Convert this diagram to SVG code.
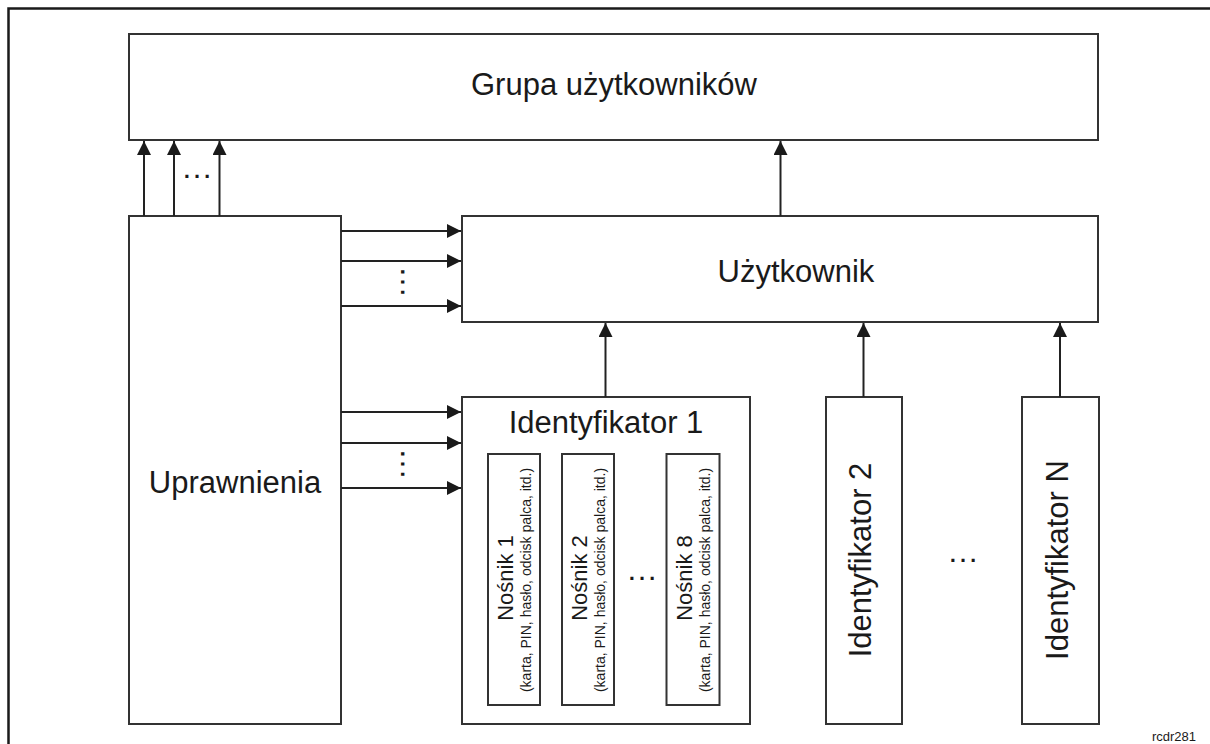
<svg xmlns="http://www.w3.org/2000/svg" width="1210" height="744" viewBox="0 0 1210 744">
<style>
.box{fill:#fff;stroke:#333;stroke-width:2}
.ln{stroke:#222;stroke-width:2;fill:none}
.t{font-family:"Liberation Sans",Arial,sans-serif;fill:#1a1a1a}
.big{font-size:31px}
.mid{font-size:22px}
.sm{font-size:14px}
.dots{font-family:"Liberation Sans",Arial,sans-serif;font-size:32px;fill:#1a1a1a}
</style>
<defs>
<marker id="ah" viewBox="0 0 14 14" refX="14" refY="7" markerWidth="14" markerHeight="14" markerUnits="userSpaceOnUse" orient="auto">
<path d="M0,0 L14,7 L0,14 Z" fill="#1a1a1a"/>
</marker>
</defs>
<rect width="1210" height="744" fill="#fff"/>
<path d="M8.5,744 V8.5 H1210" fill="none" stroke="#1a1a1a" stroke-width="2.5"/>

<g id="grupa">
<rect class="box" x="129" y="34" width="969" height="106"/>
<text class="t big" x="614" y="95" text-anchor="middle">Grupa użytkowników</text>
</g>
<g id="uzytkownik">
<rect class="box" x="462" y="216" width="636" height="106"/>
<text class="t big" x="796" y="282" text-anchor="middle">Użytkownik</text>
</g>
<g id="uprawnienia">
<rect class="box" x="129" y="216" width="212" height="508"/>
<text class="t big" x="235" y="493" text-anchor="middle">Uprawnienia</text>
</g>
<g id="identyfikator1">
<rect class="box" x="462" y="397" width="288" height="327"/>
<text class="t big" x="606" y="433" text-anchor="middle">Identyfikator 1</text>
</g>
<g id="nosnik1">
<rect class="box" x="488" y="454" width="52" height="251"/>
<text class="t mid" transform="translate(513,578) rotate(-90)" text-anchor="middle">Nośnik 1</text>
<text class="t sm" transform="translate(531,580) rotate(-90)" text-anchor="middle">(karta, PIN, hasło, odcisk palca, itd.)</text>
</g>
<g id="nosnik2">
<rect class="box" x="562" y="454" width="52" height="251"/>
<text class="t mid" transform="translate(587,578) rotate(-90)" text-anchor="middle">Nośnik 2</text>
<text class="t sm" transform="translate(605,580) rotate(-90)" text-anchor="middle">(karta, PIN, hasło, odcisk palca, itd.)</text>
</g>
<g id="nosnik8">
<rect class="box" x="666.5" y="454" width="53" height="251"/>
<text class="t mid" transform="translate(692,578) rotate(-90)" text-anchor="middle">Nośnik 8</text>
<text class="t sm" transform="translate(710,580) rotate(-90)" text-anchor="middle">(karta, PIN, hasło, odcisk palca, itd.)</text>
</g>
<g id="identyfikator2">
<rect class="box" x="826" y="397" width="76" height="327"/>
<text class="t big" transform="translate(871,560) rotate(-90)" text-anchor="middle">Identyfikator 2</text>
</g>
<g id="identyfikatorN">
<rect class="box" x="1022" y="397" width="77" height="327"/>
<text class="t big" transform="translate(1068,560) rotate(-90)" text-anchor="middle">Identyfikator N</text>
</g>

<g id="connectors">
<line class="ln" x1="144" y1="216" x2="144" y2="141" marker-end="url(#ah)"/>
<line class="ln" x1="174" y1="216" x2="174" y2="141" marker-end="url(#ah)"/>
<line class="ln" x1="219.5" y1="216" x2="219.5" y2="141" marker-end="url(#ah)"/>
<line class="ln" x1="780.5" y1="216" x2="780.5" y2="141" marker-end="url(#ah)"/>
<line class="ln" x1="341" y1="231" x2="461" y2="231" marker-end="url(#ah)"/>
<line class="ln" x1="341" y1="261" x2="461" y2="261" marker-end="url(#ah)"/>
<line class="ln" x1="341" y1="306" x2="461" y2="306" marker-end="url(#ah)"/>
<line class="ln" x1="341" y1="412" x2="461" y2="412" marker-end="url(#ah)"/>
<line class="ln" x1="341" y1="443" x2="461" y2="443" marker-end="url(#ah)"/>
<line class="ln" x1="341" y1="488" x2="461" y2="488" marker-end="url(#ah)"/>
<line class="ln" x1="605.5" y1="397" x2="605.5" y2="323" marker-end="url(#ah)"/>
<line class="ln" x1="863.5" y1="397" x2="863.5" y2="323" marker-end="url(#ah)"/>
<line class="ln" x1="1060" y1="397" x2="1060" y2="323" marker-end="url(#ah)"/>
</g>

<g id="ellipses">
<text class="dots" x="197" y="177.5" text-anchor="middle">…</text>
<text class="dots" transform="translate(400.5,282) rotate(90)" text-anchor="middle">…</text>
<text class="dots" transform="translate(400.5,464) rotate(90)" text-anchor="middle">…</text>
<text class="dots" x="642" y="579.5" text-anchor="middle">…</text>
<text class="dots" x="963" y="561.5" text-anchor="middle">…</text>
</g>
<text class="t" x="1174" y="741" font-size="13" text-anchor="middle">rcdr281</text>
</svg>
